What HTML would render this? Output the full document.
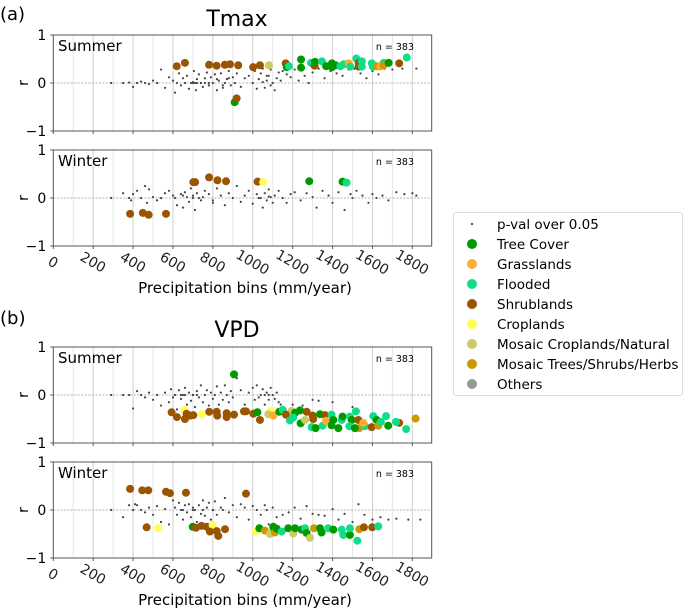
<!DOCTYPE html>
<html><head><meta charset="utf-8"><style>
body{margin:0;background:#fff;}
svg{display:block;font-family:"DejaVu Sans","Liberation Sans",sans-serif;}
</style></head><body>
<svg id="chart" width="685" height="609" viewBox="0 0 685 609" xmlns="http://www.w3.org/2000/svg"></svg>
<script>
const classNames = ["p-val over 0.05","Tree Cover","Grasslands","Flooded","Shrublands","Croplands","Mosaic Croplands/Natural","Mosaic Trees/Shrubs/Herbs","Others"];
const classColors = {T:"#009900",G:"#ffaa33",F:"#11dd88",S:"#995500",C:"#ffff55",M:"#cccc66",W:"#cc9900",O:"#999999"};
const xTicks = [0,200,400,600,800,1000,1200,1400,1600,1800];
const yTicks = [1,0,-1];

// Panel 1: Tmax summer
const p1x = [619,660,781,819,860,886,927,1002,1036,1081,1165,1170,1181,1242,1242,1292,1310,1312,1347,1368,1397,1397,1414,1439,1456,1481,1489,1519,1531,1531,1547,1547,1597,1602,1622,1639,1656,1656,1681,1734,1772,909,919];
const p1r = [0.35,0.42,0.38,0.36,0.38,0.39,0.37,0.33,0.37,0.37,0.41,0.33,0.35,0.49,0.32,0.42,0.36,0.44,0.45,0.35,0.41,0.33,0.37,0.35,0.39,0.41,0.34,0.51,0.42,0.34,0.45,0.34,0.41,0.34,0.35,0.34,0.42,0.37,0.42,0.41,0.53,-0.40,-0.32];
const p1c = ["S","S","S","S","S","S","S","S","S","M","S","T","F","T","T","F","S","T","F","T","T","T","T","F","F","G","F","F","S","S","F","F","F","F","W","G","F","W","T","S","F","T","S"];
const p1gx = [290,350,380,400,420,440,460,480,500,520,540,560,580,600,610,620,630,640,650,660,670,680,690,700,705,710,715,720,730,740,750,760,770,780,790,800,810,820,830,840,850,860,870,880,890,900,910,920,940,960,980,1000,1010,1020,1030,1040,1050,1060,1070,1080,1090,1100,1110,1120,1130,1140,1150,1170,1190,1210,1230,1260,1280,1300,1330,1360,1390,1420,1450,1480,1510,1540,1570,1600,1630,1660,1700,1750,1820,700,720,740,760,780,820,850,880,1050,1070,1090];
const p1gr = [0,0,0.01,-0.08,0,0.03,0,-0.02,0.05,0,0.28,-0.1,0.12,0.05,-0.2,0,0.2,-0.05,0.1,0,0.15,-0.12,0,0.02,0.25,0,-0.15,0.08,0.18,0,-0.08,0.1,0.22,-0.05,0.12,0,0.18,-0.15,0.05,0.2,-0.1,0,0.08,0.25,-0.05,0.12,0,0.2,-0.08,0.1,0.15,0,0.25,-0.12,0.08,0.2,0.3,-0.1,0.05,0.15,0.28,0,-0.15,0.1,0.22,0.05,0.25,0.18,0.12,0.28,0.05,0.15,0,0.22,0.3,0.1,0.25,0.2,0.15,0.28,0.3,0.2,0.1,0.25,0.18,0.3,0.28,0.3,0.3,0,0,0,0,0,0.08,-0.05,0.1,0.02,0.15,-0.05];

// Panel 2: Tmax winter
const p2x = [385,449,478,565,702,711,781,823,866,1024,1052,1283,1450,1470];
const p2r = [-0.33,-0.31,-0.35,-0.33,0.33,0.33,0.43,0.37,0.35,0.34,0.33,0.35,0.34,0.32];
const p2c = ["S","S","S","S","S","S","S","S","S","S","C","T","T","F"];
const p2gx = [290,350,380,390,400,420,440,460,470,480,500,520,540,560,580,600,610,620,640,650,660,670,680,690,700,710,720,730,740,760,780,800,820,840,860,880,900,920,940,960,980,1000,1020,1040,1050,1060,1070,1080,1090,1100,1110,1130,1150,1170,1190,1210,1240,1270,1300,1320,1350,1380,1400,1430,1460,1490,1500,1520,1550,1580,1600,1620,1650,1680,1720,1760,1800,1820,650,700,750,800,1030,1080];
const p2gr = [0,0.1,0,-0.05,0.08,0.15,0,0.25,-0.1,0.18,0.02,-0.05,0,0.1,0.15,0.05,0,-0.15,0.08,-0.2,0.12,0.02,-0.08,0.2,0.05,-0.25,0.1,0,-0.05,0.15,0.08,-0.1,0.2,0.05,-0.15,0.1,0,0.25,-0.08,0.05,0.15,-0.12,0.08,0,-0.2,0.1,-0.05,0.18,0.02,-0.1,0.05,0.15,0,-0.1,0.08,0.12,-0.05,0.1,0.02,-0.2,0.15,0.05,-0.1,0.12,-0.25,0.08,0,0.15,0.05,-0.1,0.08,0,0.05,-0.05,0.12,0.08,0.1,0.05,0.05,0,0.02,-0.05,0,0.03];

// Panel 3: VPD summer
const p3x = [593,620,657,668,685,660,702,744,782,819,822,869,869,906,956,966,1003,1023,1036,1090,1078,1103,1133,1150,1195,1166,1186,1212,1237,1203,1240,1270,1262,1300,1303,1295,1315,1350,1337,1362,1367,1395,1404,1395,1446,1450,1429,1487,1517,1496,1484,1529,1534,1512,1562,1554,1604,1621,1596,1629,1642,1668,1679,1734,1718,1769,1816,906];
const p3r = [-0.36,-0.46,-0.31,-0.39,-0.43,-0.50,-0.42,-0.40,-0.35,-0.35,-0.43,-0.38,-0.46,-0.41,-0.34,-0.34,-0.39,-0.36,-0.52,-0.33,-0.40,-0.43,-0.35,-0.31,-0.33,-0.41,-0.53,-0.37,-0.32,-0.47,-0.59,-0.35,-0.52,-0.43,-0.50,-0.67,-0.69,-0.64,-0.40,-0.42,-0.54,-0.41,-0.52,-0.63,-0.52,-0.45,-0.69,-0.45,-0.34,-0.52,-0.65,-0.52,-0.69,-0.69,-0.65,-0.58,-0.44,-0.52,-0.67,-0.64,-0.56,-0.44,-0.64,-0.58,-0.56,-0.71,-0.49,0.43];
const p3c = ["S","S","C","S","S","S","S","C","S","S","S","S","S","S","S","S","S","T","S","C","M","G","T","F","M","S","F","T","T","F","T","S","M","S","S","F","T","F","T","S","G","F","T","T","F","T","T","F","F","T","F","S","W","T","F","G","F","T","S","W","F","F","T","S","F","F","W","T"];
const p3gx = [290,350,380,400,420,440,460,480,500,520,540,560,580,590,600,610,620,630,640,650,660,670,680,690,700,710,720,730,740,750,760,770,780,790,800,810,820,830,840,850,860,870,880,890,900,920,940,960,980,1000,1010,1020,1030,1040,1050,1060,1070,1080,1090,1100,1110,1120,1130,1140,1200,1250,1300,1330,1400,1500,640,660,700,720,1060,1080];
const p3gr = [0,0,0,-0.28,0.08,0,-0.05,0.05,-0.1,0,-0.22,0.05,-0.15,0.12,-0.05,0,-0.3,0.1,-0.08,0,0.15,-0.2,0.05,-0.12,0,-0.25,0.08,-0.05,0.2,-0.15,0,0.1,-0.22,0.05,-0.08,0,0.18,-0.2,0.05,-0.1,0.2,0,-0.15,0.08,-0.05,0.35,0.1,-0.2,0.05,0.15,-0.1,0.2,-0.05,0,0.12,-0.2,0.05,-0.1,0.15,0,-0.08,0.05,-0.15,-0.2,-0.2,-0.22,-0.1,-0.12,-0.15,-0.25,0,0,0,0,0,0];

// Panel 4: VPD winter
const p4x = [385,446,476,565,585,665,966,468,526,699,715,743,769,799,785,819,827,861,1016,1033,1061,1086,1103,1103,1111,1120,1145,1178,1203,1212,1245,1262,1270,1307,1287,1337,1345,1378,1404,1446,1454,1487,1487,1534,1524,1557,1599,1629];
const p4r = [0.44,0.41,0.41,0.38,0.35,0.36,0.34,-0.36,-0.38,-0.35,-0.37,-0.33,-0.35,-0.32,-0.45,-0.44,-0.54,-0.40,-0.45,-0.38,-0.43,-0.50,-0.35,-0.36,-0.47,-0.39,-0.45,-0.38,-0.49,-0.38,-0.41,-0.38,-0.48,-0.38,-0.58,-0.38,-0.47,-0.38,-0.41,-0.41,-0.52,-0.52,-0.38,-0.40,-0.64,-0.36,-0.36,-0.34];
const p4c = ["S","S","S","S","S","S","S","S","C","T","S","S","S","C","S","S","S","S","C","T","W","M","T","T","W","T","F","T","M","T","T","F","T","W","M","T","T","F","T","F","F","T","F","W","F","S","S","F"];
const p4gx = [290,350,380,400,410,420,440,460,480,500,520,540,560,580,600,610,620,630,640,650,660,670,680,690,700,710,720,730,740,750,760,770,780,790,800,810,820,840,860,880,900,920,940,960,980,1000,1020,1040,1060,1080,1100,1120,1150,1180,1210,1240,1270,1300,1330,1360,1400,1430,1460,1500,1530,1560,1600,1640,1680,1720,1780,1840,650,700,750,800,850,1070];
const p4gr = [0,-0.15,0.1,0,0.12,0.1,0,-0.05,0.05,-0.1,0.08,-0.25,0.02,-0.3,0.2,0.05,-0.1,0.15,0,-0.2,0.1,-0.05,0.12,-0.15,0.05,0,-0.25,0.1,-0.08,0.2,-0.12,0.05,0.15,-0.2,0,0.18,-0.1,0.05,0.25,-0.05,0.1,-0.15,0.12,0.05,-0.2,0.08,0,-0.1,0.1,-0.3,0.05,-0.15,-0.1,-0.05,0.05,-0.18,0.08,-0.08,-0.1,-0.12,0.02,-0.2,-0.08,-0.25,0.12,-0.1,-0.2,-0.15,-0.2,-0.18,-0.2,-0.2,0,0,0,0,0,0];

const panels = [
 {name:"tmax-summer", season:"Summer", top:35, bottom:131, labels:false, gx:p1gx, gr:p1gr, x:p1x, r:p1r, c:p1c},
 {name:"tmax-winter", season:"Winter", top:150, bottom:246, labels:true, gx:p2gx, gr:p2gr, x:p2x, r:p2r, c:p2c},
 {name:"vpd-summer", season:"Summer", top:347, bottom:443, labels:false, gx:p3gx, gr:p3gr, x:p3x, r:p3r, c:p3c},
 {name:"vpd-winter", season:"Winter", top:462, bottom:558, labels:true, gx:p4gx, gr:p4gr, x:p4x, r:p4r, c:p4c}
];
const X0=53.3, X1=431.7, XMAX=1897;
function xs(v){return X0 + v*(X1-X0)/XMAX;}
const NS="http://www.w3.org/2000/svg";
const svg=document.getElementById('chart');
function mk(tag,attrs,parent,text){const e=document.createElementNS(NS,tag);for(const k in attrs)e.setAttribute(k,attrs[k]);if(text!==undefined)e.textContent=text;(parent||svg).appendChild(e);return e;}

let t;
t=mk('text',{x:0,y:20,'font-size':18},svg,'(a)');


t=mk('text',{x:237,y:26,'font-size':22,'text-anchor':'middle'},svg,'Tmax');


t=mk('text',{x:0,y:324,'font-size':18},svg,'(b)');


t=mk('text',{x:237,y:337,'font-size':22,'text-anchor':'middle'},svg,'VPD');



panels.forEach(p=>{
  const g=mk('g',{});
  
  
  const ys=v=>(p.top+p.bottom)/2 - v*(p.bottom-p.top)/2;
  for(let v=100; v<XMAX; v+=100){
    const l=mk('line',{x1:xs(v),x2:xs(v),y1:p.top,y2:p.bottom,stroke:(v%200===0)?'#cfcfcf':'#e6e6e6','stroke-width':1},g);
    
    
  }
  const z=mk('line',{x1:X0,x2:X1,y1:ys(0),y2:ys(0),stroke:'#999','stroke-width':0.8,'stroke-dasharray':'2,1.5'},g);
  
  
  p.gx.forEach((v,i)=>{
    const d=mk('circle',{cx:xs(v),cy:ys(p.gr[i]),r:1.1,fill:'#444'},g);
    
    
  });
  p.x.forEach((v,i)=>{
    const d=mk('circle',{cx:xs(v),cy:ys(p.r[i]),r:4,fill:classColors[p.c[i]]},g);
    
    
  });
  const f=mk('rect',{x:X0,y:p.top,width:X1-X0,height:p.bottom-p.top,fill:'none',stroke:'#555','stroke-width':1},g);
  
  
  yTicks.forEach(v=>{
    mk('line',{x1:X0-3,x2:X0,y1:ys(v),y2:ys(v),stroke:'#555'},g);
    const tl=mk('text',{x:X0-7,y:ys(v)+5,'font-size':14,'text-anchor':'end'},g,v<0?'\u22121':String(v));
    
    
  });
  const yl=mk('text',{x:24,y:(p.top+p.bottom)/2+4,'font-size':14,'text-anchor':'middle',transform:`rotate(-90 24 ${(p.top+p.bottom)/2})`},g,'r');
  
  
  const s=mk('text',{x:58,y:p.top+16,'font-size':15},g,p.season);
  
  
  const n=mk('text',{x:414,y:p.top+15,'font-size':9.5,'text-anchor':'end'},g,'n = 383');
  
  
  xTicks.forEach(v=>{
    mk('line',{x1:xs(v),x2:xs(v),y1:p.bottom,y2:p.bottom+3,stroke:'#555'},g);
    if(p.labels){
      const cy=p.bottom+16;
      const tl=mk('text',{x:xs(v),y:cy+5,'font-size':14,'text-anchor':'middle',fill:'#222',transform:`rotate(30 ${xs(v)} ${cy})`},g,String(v));
      
      
    }
  });
  if(p.labels){
    const xl=mk('text',{x:245,y:p.bottom+47,'font-size':15,'text-anchor':'middle'},g,'Precipitation bins (mm/year)');
    
    
  }
});

const lg=mk('g',{});


mk('rect',{x:453.5,y:212.5,width:229,height:183,rx:3,fill:'#fff',stroke:'#ddd'},lg);
const legKeys=[null,"T","G","F","S","C","M","W","O"];
classNames.forEach((nm,i)=>{
  const y=224+i*20;
  if(i===0){ mk('circle',{cx:472,cy:y,r:1.1,fill:'#444'},lg); }
  else { mk('circle',{cx:472,cy:y,r:5,fill:classColors[legKeys[i]]},lg); }
  const e=mk('text',{x:497,y:y+5,'font-size':13.5},lg,nm);
  
  
});
</script>
</body></html>
